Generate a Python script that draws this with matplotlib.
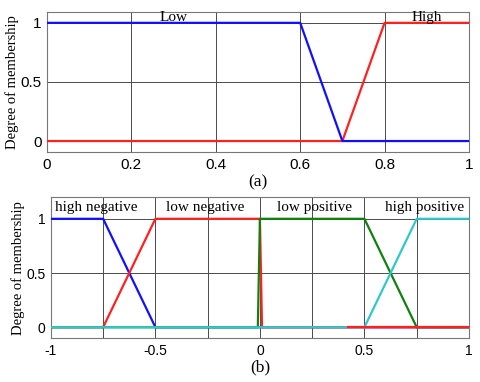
import matplotlib
matplotlib.use('Agg')
import matplotlib.pyplot as plt

# (a) input membership functions
a_low_x = [0, 0.6, 0.7, 1]
a_low_y = [1, 1, 0, 0]
a_high_x = [0, 0.7, 0.8, 1]
a_high_y = [0, 0, 1, 1]
a_labels = ['Low', 'High']
a_label_x = [0.30, 0.90]

# (b) output membership functions
hn_x = [-1, -0.75, -0.5, 1]
hn_y = [1, 1, 0, 0]
ln_x = [-1, -0.75, -0.5, 0, 0.01, 1]
ln_y = [0, 0, 1, 1, 0, 0]
lp_x = [-1, -0.01, 0, 0.5, 0.75, 1]
lp_y = [0, 0, 1, 1, 0, 0]
hp_x = [-1, 0.5, 0.75, 1]
hp_y = [0, 0, 1, 1]
b_labels = ['high negative', 'low negative', 'low positive', 'high positive']
b_label_x = [-0.785, -0.26, 0.263, 0.79]

serif = 'Liberation Serif'
sans = 'Liberation Sans'
grid_c = '#4a4a4a'

fig = plt.figure(figsize=(4.8, 3.82), dpi=100)

# ---- top panel
ax1 = fig.add_axes([0.098, 0.602, 0.879, 0.367])
ax1.plot(a_high_x, a_high_y, color='#ff2020', lw=1.6, zorder=3)
ax1.plot(a_low_x, a_low_y, color='#1010ff', lw=1.6, zorder=4)
ax1.set_xlim(0, 1)
ax1.set_ylim(-0.093, 1.093)
ax1.set_xticks([0, 0.2, 0.4, 0.6, 0.8, 1])
ax1.set_xticklabels(['0', '0.2', '0.4', '0.6', '0.8', '1'])
ax1.set_yticks([0, 0.5, 1])
ax1.set_yticklabels(['0', '0.5', '1'])
ax1.grid(True, color=grid_c, lw=0.7)
for lab, x in zip(a_labels, a_label_x):
    ax1.text(x, 1.045, lab, ha='center', va='center', family=serif, fontsize=11, zorder=5)
ax1.set_ylabel('Degree of membership', family=serif, fontsize=10.5, labelpad=1)
ax1.tick_params(labelsize=11)
ax1.text(0.5, -0.22, '(a)', transform=ax1.transAxes, ha='center', va='center',
         family=serif, fontsize=12.5)

# ---- bottom panel
ax2 = fig.add_axes([0.106, 0.115, 0.871, 0.369])
ax2.plot(hn_x, hn_y, color='#1010ff', lw=1.6, zorder=3)
ax2.plot(ln_x, ln_y, color='#ff2020', lw=1.6, zorder=3)
ax2.plot(lp_x, lp_y, color='#108010', lw=1.6, zorder=4)
ax2.plot(hp_x, hp_y, color='#30c8c8', lw=1.6, zorder=5)
ax2.plot([ln_x[-2] + 0.41, ln_x[-1]], [ln_y[-2], ln_y[-1]], color='#ff2020', lw=1.6, zorder=6)
ax2.set_xlim(-1, 1)
ax2.set_ylim(-0.1, 1.2)
ax2.set_xticks([-1, -0.5, 0, 0.5, 1])
ax2.set_xticklabels(['-1', '-0.5', '0', '0.5', '1'])
ax2.set_xticks([-0.75, -0.25, 0.25, 0.75], minor=True)
ax2.set_yticks([0, 0.5, 1])
ax2.set_yticklabels(['0', '0.5', '1'])
ax2.grid(True, which='both', color=grid_c, lw=0.7)
ax2.tick_params(which='minor', length=0)
for lab, x in zip(b_labels, b_label_x):
    ax2.text(x, 1.1, lab, ha='center', va='center', family=serif, fontsize=11, zorder=7)
ax2.set_ylabel('Degree of membership', family=serif, fontsize=10.5, labelpad=1)
ax2.tick_params(labelsize=10)
ax2.text(0.5, -0.205, '(b)', transform=ax2.transAxes, ha='center', va='center',
         family=serif, fontsize=12.5)

for ax in (ax1, ax2):
    ax.set_axisbelow(True)
    ax.tick_params(length=0, pad=4)
    for t in ax.get_xticklabels() + ax.get_yticklabels():
        t.set_family(sans)
    for s in ax.spines.values():
        s.set_color('#777777')
        s.set_linewidth(0.8)

fig.savefig('out.png', dpi=100)
